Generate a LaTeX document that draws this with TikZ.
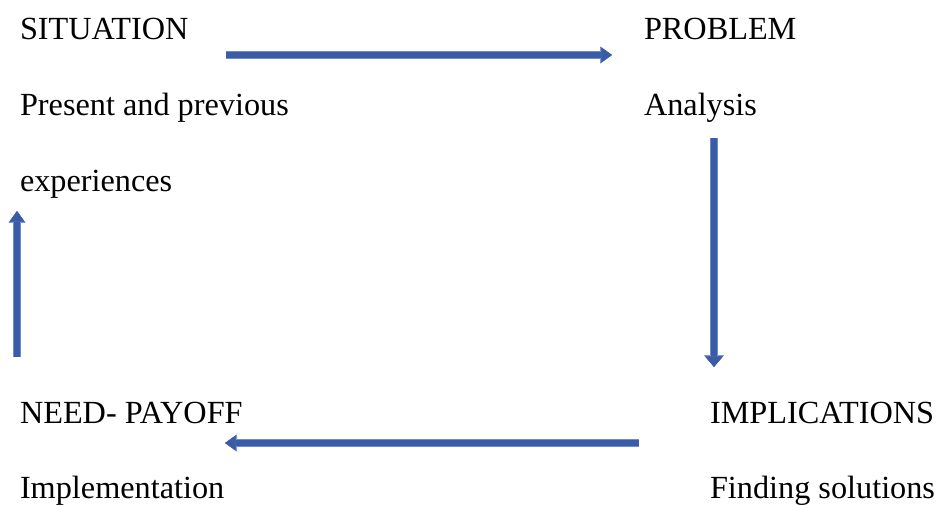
\documentclass[tikz,border=0pt]{standalone}
\usepackage{fontspec}
\setmainfont{Liberation Serif}
\usetikzlibrary{arrows.meta}

\definecolor{arrowcore}{RGB}{58,92,166}
\definecolor{arrowedge}{RGB}{112,140,200}

\tikzset{
  label/.style={anchor=base west, inner sep=0pt, outer sep=0pt,
    font=\fontsize{24.2pt}{29pt}\selectfont, text=black},
  flow/.style={
    preaction={draw=arrowedge, line width=5.6pt,
      -{Triangle[width=12.9pt, length=9pt, line width=0.4pt]}},
    draw=arrowcore, line width=4.0pt,
    -{Triangle[width=11.4pt, length=8pt, line width=0.4pt]}},
  flowwide/.style={
    preaction={draw=arrowedge, line width=6.6pt,
      -{Triangle[width=15pt, length=9pt, line width=0.4pt]}},
    draw=arrowcore, line width=5.0pt,
    -{Triangle[width=13.5pt, length=8pt, line width=0.4pt]}},
}

\begin{document}
\begin{tikzpicture}[x=0.75pt, y=-0.75pt]
  \useasboundingbox (0,0) rectangle (937,505);

  % stage labels
  \node[label] (sit)   at (20,40)  {SITUATION};
  \node[label] (sitd1) at (20,116) {Present and previous};
  \node[label] (sitd2) at (20,192) {experiences};

  \node[label] (prob)  at (644,40)  {PROBLEM};
  \node[label] (probd) at (644,116) {Analysis};

  \node[label] (impl)  at (710,423) {IMPLICATIONS};
  \node[label] (impld) at (710,498) {Finding solutions};

  \node[label] (need)  at (20,423) {NEED- PAYOFF};
  \node[label] (needd) at (20,498) {Implementation};

  % arrow end points
  \coordinate (a1s) at (226,55);
  \coordinate (a1e) at (612,55);
  \coordinate (a2s) at (714,138);
  \coordinate (a2e) at (714,367);
  \coordinate (a3s) at (639,443);
  \coordinate (a3e) at (225,443);
  \coordinate (a4s) at (17,357);
  \coordinate (a4e) at (17,211);

  % cycle arrows
  \draw[flow] (a1s) -- (a1e);
  \draw[flowwide] (a2s) -- (a2e);
  \draw[flow] (a3s) -- (a3e);
  \draw[flow] (a4s) -- (a4e);
\end{tikzpicture}
\end{document}
